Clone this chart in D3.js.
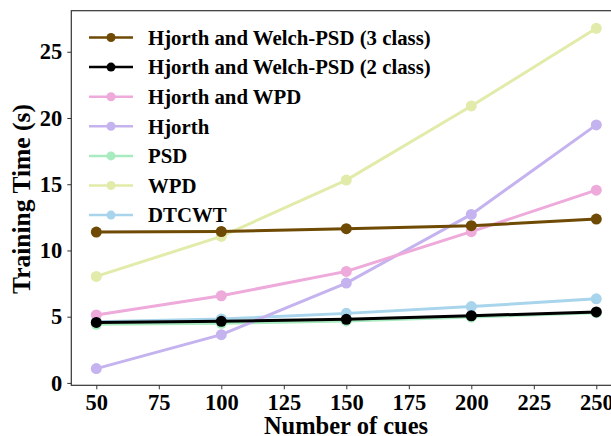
<!DOCTYPE html>
<html lang="en">
<head>
<meta charset="utf-8">
<title>training time</title>
<script src="https://d3js.org/d3.v7.min.js"></script>
<style>
  body{margin:0;background:#fff;}
  text{font-family:"Liberation Serif","Times New Roman",serif;font-weight:bold;fill:#000;}
</style>
</head>
<body>
<div id="chart1"></div>
<script>
// number of cues on x
var cues = [50, 100, 150, 200, 250]
var seriesNames = ["Hjorth and Welch-PSD (3 class)", "Hjorth and Welch-PSD (2 class)", "Hjorth and WPD", "Hjorth", "PSD", "WPD", "DTCWT"]
var seriesColors = ["#6e4a04", "#000000", "#eeaada", "#c5b3ef", "#a9ebc0", "#e2eba9", "#a8d5ec"]
var hjWelch3 = [11.39, 11.43, 11.64, 11.87, 12.37]
var hjWelch2 = [4.57, 4.65, 4.80, 5.07, 5.36]
var hjWpd = [5.13, 6.58, 8.42, 11.42, 14.55]
var hjorth = [1.08, 3.64, 7.54, 12.72, 19.48]
var psd = [4.42, 4.50, 4.68, 4.97, 5.30]
var wpd = [8.04, 11.06, 15.31, 20.91, 26.77]
var dtcwt = [4.62, 4.83, 5.25, 5.76, 6.35]
var xTicks = [50, 75, 100, 125, 150, 175, 200, 225, 250]
var yTicks = [0, 5, 10, 15, 20, 25]

var allSeries = [hjWelch3, hjWelch2, hjWpd, hjorth, psd, wpd, dtcwt]

var w = 611, h = 436
// plot box (right edge runs past the window, as in the reference)
var pLeft = 71.3, pRight = 621.3, pTop = 10.7, pBottom = 385.3

var xScale = d3.scaleLinear().domain([40, 260]).range([pLeft, pRight])
var yScale = d3.scaleLinear().domain([-0.18, 28.1]).range([pBottom, pTop])

var svg = d3.select("#chart1").append("svg")
  .attr("width", w).attr("height", h)

// axes
var xAxis = svg.append("g").attr("transform", "translate(0," + pBottom + ")")
  .call(d3.axisBottom(xScale).tickValues(xTicks).tickSize(4).tickPadding(5).tickFormat(d3.format("d")))
var yAxis = svg.append("g").attr("transform", "translate(" + pLeft + ",0)")
  .call(d3.axisLeft(yScale).tickValues(yTicks).tickSize(4).tickPadding(5).tickFormat(d3.format("d")))
xAxis.select(".domain").remove()
yAxis.select(".domain").remove()
svg.selectAll(".tick line").attr("stroke", "#333").attr("stroke-width", 1)
svg.selectAll(".tick text").style("font-size", "22.5px").style("font-family", "Liberation Serif").style("font-weight", "bold").attr("fill", "#000")

// frame
svg.append("rect").attr("x", pLeft).attr("y", pTop)
  .attr("width", pRight - pLeft).attr("height", pBottom - pTop)
  .attr("fill", "none").attr("stroke", "#333").attr("stroke-width", 1.2)

var line = d3.line().x(function(d, i){ return xScale(cues[i]) }).y(function(d){ return yScale(d) })

// draw back to front so the black and brown lines sit on top
d3.range(allSeries.length).reverse().forEach(function(k){
  var g = svg.append("g")
  g.append("path").attr("d", line(allSeries[k]))
    .attr("fill", "none").attr("stroke", seriesColors[k]).attr("stroke-width", 3)
  g.selectAll("circle").data(allSeries[k]).enter().append("circle")
    .attr("cx", function(d, i){ return xScale(cues[i]) })
    .attr("cy", function(d){ return yScale(d) })
    .attr("r", 5.5)
    .attr("fill", seriesColors[k])
})

// legend
var legend = svg.append("g")
seriesNames.forEach(function(name, i){
  var yy = 37.5 + i * 29.6
  legend.append("line").attr("x1", 89).attr("x2", 133).attr("y1", yy).attr("y2", yy)
    .attr("stroke", seriesColors[i]).attr("stroke-width", 2.5)
  legend.append("circle").attr("cx", 111).attr("cy", yy).attr("r", 4.5).attr("fill", seriesColors[i])
  legend.append("text").attr("x", 148).attr("y", yy).attr("dy", "0.35em")
    .style("font-size", "20.8px").text(name)
})

// axis titles
svg.append("text").attr("x", 346).attr("y", 434)
  .attr("text-anchor", "middle").style("font-size", "24.5px").text("Number of cues")
svg.append("text").attr("transform", "translate(30," + ((pTop + pBottom) / 2 + 1) + ") rotate(-90)")
  .attr("text-anchor", "middle").style("font-size", "25.5px").text("Training Time (s)")
</script>
</body>
</html>
